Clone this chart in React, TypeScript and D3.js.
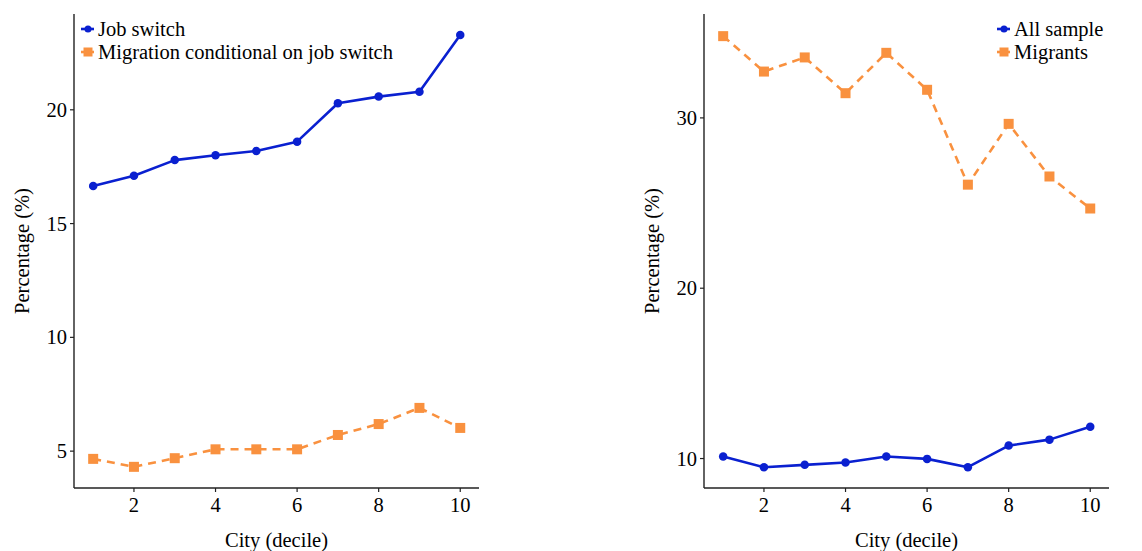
import React from "react";
import * as d3 from "d3";

// Decile of city size
const deciles = [1, 2, 3, 4, 5, 6, 7, 8, 9, 10];

// Left panel series (%)
const jobSwitch = [16.65, 17.1, 17.79, 18.0, 18.19, 18.6, 20.29, 20.58, 20.79, 23.29];
const migrationGivenSwitch = [4.66, 4.31, 4.69, 5.08, 5.08, 5.08, 5.71, 6.19, 6.9, 6.02];

// Right panel series (%)
const allSample = [10.12, 9.49, 9.63, 9.77, 10.12, 9.98, 9.49, 10.76, 11.11, 11.86];
const migrants = [34.8, 32.72, 33.55, 31.45, 33.82, 31.65, 26.08, 29.65, 26.56, 24.68];

const xTicks = [2, 4, 6, 8, 10];
const leftYTicks = [5, 10, 15, 20];
const rightYTicks = [10, 20, 30];

const BLUE = "#0a20d0";
const ORANGE = "#f9913f";
const FONT = "'Liberation Serif', 'Times New Roman', serif";
const FS = 20.5;

type Series = { name: string; values: number[]; color: string; dashed: boolean; marker: "circle" | "square" };

type PanelProps = {
  left: number;
  right: number;
  top: number;
  bottom: number;
  yDomain: [number, number];
  yTicks: number[];
  series: Series[];
  legendX: number;
};

function Marker({ kind, x, y, color, size }: { kind: "circle" | "square"; x: number; y: number; color: string; size: number }) {
  if (kind === "circle") return <circle cx={x} cy={y} r={size / 2} fill={color} />;
  return <rect x={x - size / 2} y={y - size / 2} width={size} height={size} fill={color} />;
}

function Panel({ left, right, top, bottom, yDomain, yTicks, series, legendX }: PanelProps) {
  const x = d3.scaleLinear().domain([0.53, 10.46]).range([left, right]);
  const y = d3.scaleLinear().domain(yDomain).range([bottom, top]);
  const line = d3
    .line<number>()
    .x((_, i) => x(deciles[i]))
    .y((v) => y(v));
  const axisColor = "#222";
  return (
    <g>
      {series.map((s) => (
        <g key={s.name}>
          <path
            d={line(s.values) || ""}
            fill="none"
            stroke={s.color}
            strokeWidth={2.6}
            strokeDasharray={s.dashed ? "8,6" : undefined}
            strokeLinejoin="round"
          />
          {s.values.map((v, i) => (
            <Marker key={i} kind={s.marker} x={x(deciles[i])} y={y(v)} color={s.color} size={s.marker === "circle" ? 8.5 : 10} />
          ))}
        </g>
      ))}
      {/* axes */}
      <line x1={left} x2={left} y1={top} y2={bottom} stroke={axisColor} strokeWidth={1.4} />
      <line x1={left} x2={right} y1={bottom} y2={bottom} stroke={axisColor} strokeWidth={1.4} />
      {xTicks.map((t) => (
        <g key={t}>
          <line x1={x(t)} x2={x(t)} y1={bottom} y2={bottom + 4} stroke={axisColor} strokeWidth={1.2} />
          <text x={x(t)} y={bottom + 24} textAnchor="middle" fontSize={FS} fontFamily={FONT} fill="#000">
            {t}
          </text>
        </g>
      ))}
      {yTicks.map((t) => (
        <g key={t}>
          <line x1={left - 4} x2={left} y1={y(t)} y2={y(t)} stroke={axisColor} strokeWidth={1.2} />
          <text x={left - 7} y={y(t) + 7} textAnchor="end" fontSize={FS} fontFamily={FONT} fill="#000">
            {t}
          </text>
        </g>
      ))}
      <text x={(left + right) / 2} y={547} textAnchor="middle" fontSize={FS} fontFamily={FONT} fill="#000">
        City (decile)
      </text>
      <text
        transform={`translate(${left - 45},${(top + bottom) / 2}) rotate(-90)`}
        textAnchor="middle"
        fontSize={FS}
        fontFamily={FONT}
        fill="#000"
      >
        Percentage (%)
      </text>
      {/* legend */}
      {series.map((s, i) => {
        const cy = 29 + i * 23;
        return (
          <g key={s.name}>
            <line x1={legendX - 7} x2={legendX + 6} y1={cy} y2={cy} stroke={s.color} strokeWidth={2.6} />
            <Marker kind={s.marker} x={legendX} y={cy} color={s.color} size={s.marker === "circle" ? 7 : 9} />
            <text x={legendX + 10} y={cy + 6.5} fontSize={FS} fontFamily={FONT} fill="#000">
              {s.name}
            </text>
          </g>
        );
      })}
    </g>
  );
}

export default function App() {
  return (
    <svg width={1142} height={551} style={{ position: "absolute", left: 0, top: 0, background: "#fff" }}>
      <Panel
        left={74}
        right={479}
        top={14}
        bottom={488}
        yDomain={[3.38, 24.21]}
        yTicks={leftYTicks}
        legendX={88}
        series={[
          { name: "Job switch", values: jobSwitch, color: BLUE, dashed: false, marker: "circle" },
          { name: "Migration conditional on job switch", values: migrationGivenSwitch, color: ORANGE, dashed: true, marker: "square" },
        ]}
      />
      <Panel
        left={704}
        right={1109}
        top={14}
        bottom={488}
        yDomain={[8.27, 36.1]}
        yTicks={rightYTicks}
        legendX={1004}
        series={[
          { name: "All sample", values: allSample, color: BLUE, dashed: false, marker: "circle" },
          { name: "Migrants", values: migrants, color: ORANGE, dashed: true, marker: "square" },
        ]}
      />
    </svg>
  );
}
